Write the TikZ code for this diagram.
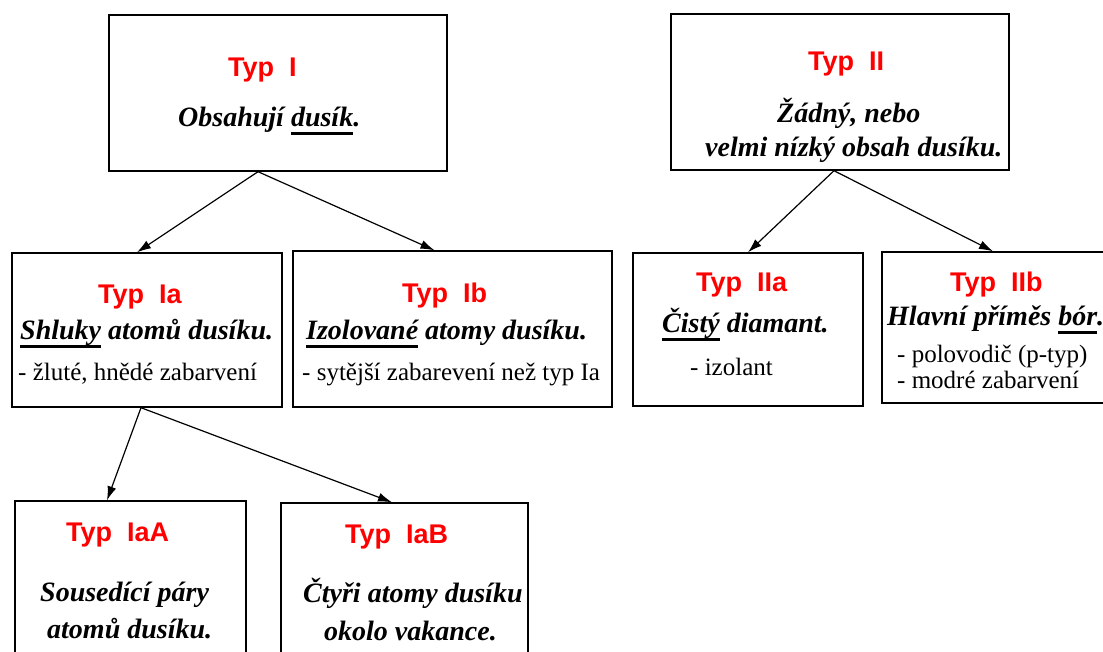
\documentclass[tikz,border=0pt]{standalone}
\usepackage{fontspec}
\setmainfont{Liberation Serif}
\newfontfamily\headfont{Liberation Sans}
\usetikzlibrary{arrows.meta}
\definecolor{typred}{RGB}{255,0,0}
% thick underline drawn below a word
\newcommand{\ulword}[1]{\setbox0\hbox{#1}\makebox[0pt][l]{\rule[-8pt]{\wd0}{2.6pt}}\box0\relax}
\tikzset{
  box/.style={draw=black, line width=1.4pt, fill=white, rectangle, inner sep=0pt},
  head/.style={anchor=base west, inner sep=0pt, text=typred, font=\headfont\bfseries\fontsize{27}{30}\selectfont},
  lead/.style={anchor=base west, inner sep=0pt, font=\bfseries\itshape\fontsize{28}{32}\selectfont},
  note/.style={anchor=base west, inner sep=0pt, font=\fontsize{25}{28}\selectfont},
  arr/.style={line width=1.2pt, -{Latex[length=14pt,width=9pt]}}
}
\begin{document}
\begin{tikzpicture}[x=1pt,y=-1pt]
\clip (0,0) rectangle (1103,652);
\fill[white] (0,0) rectangle (1103,652);

% boxes
\node[box, minimum width=338pt, minimum height=156pt] (t1)  at (278,93) {};
\node[box, minimum width=338pt, minimum height=156pt] (t2)  at (840,92) {};
\node[box, minimum width=270pt, minimum height=154pt] (ia)  at (147,330) {};
\node[box, minimum width=319pt, minimum height=156pt] (ib)  at (452.5,329) {};
\node[box, minimum width=230pt, minimum height=153pt] (iia) at (748,329.5) {};
\node[box, minimum width=233pt, minimum height=151pt] (iib) at (998.5,327.5) {};
\node[box, minimum width=231pt, minimum height=179pt] (iaa) at (130.5,590.5) {};
\node[box, minimum width=247pt, minimum height=177pt] (iab) at (404.5,591.5) {};

% Typ I
\node[head] (h1) at (228,77) {Typ\ \ I};
\node[lead] (l1) at (178,127) {Obsahují \ulword{dusík}.};

% Typ II
\node[head] (h2) at (808,71) {Typ\ \ II};
\node[lead] (l2a) at (777,123) {Žádný, nebo};
\node[lead] (l2b) at (705,157) {velmi nízký obsah dusíku.};

% Typ Ia
\node[head] (hia) at (98,304) {Typ\ \ Ia};
\node[lead] (lia) at (20,340) {\ulword{Shluky} atomů dusíku.};
\node[note] (nia) at (18,380) {- žluté, hnědé zabarvení};

% Typ Ib
\node[head] (hib) at (402,302) {Typ\ \ Ib};
\node[lead] (lib) at (306,340) {\ulword{Izolované} atomy dusíku.};
\node[note] (nib) at (302,380) {- sytější zabarevení než typ Ia};

% Typ IIa
\node[head] (hiia) at (696,292) {Typ\ \ IIa};
\node[lead] (liia) at (662,333) {\ulword{Čistý} diamant.};
\node[note] (niia) at (690,375) {- izolant};

% Typ IIb
\node[head] (hiib) at (950,292) {Typ\ \ IIb};
\node[lead] (liib) at (887,326) {Hlavní příměs \ulword{bór}.};
\node[note] (niib1) at (897,362) {- polovodič (p-typ)};
\node[note] (niib2) at (897,388) {- modré zabarvení};

% Typ IaA
\node[head] (hiaa) at (66,541) {Typ\ \ IaA};
\node[lead] (liaa1) at (40,601) {Sousedící páry};
\node[lead] (liaa2) at (47,638) {atomů dusíku.};

% Typ IaB
\node[head] (hiab) at (345,543) {Typ\ \ IaB};
\node[lead] (liab1) at (303,602) {Čtyři atomy dusíku};
\node[lead] (liab2) at (324,640) {okolo vakance.};

% connectors
\draw[arr] ([xshift=-20pt]t1.south) -- ([xshift=-10pt]ia.north);
\draw[arr] ([xshift=-20pt]t1.south) -- ([xshift=-18pt]ib.north);
\draw[arr] ([xshift=-6pt]t2.south) -- (iia.north);
\draw[arr] ([xshift=-6pt]t2.south) -- ([xshift=-5.5pt]iib.north);
\draw[arr] ([xshift=-6pt]ia.south) -- ([xshift=-23.5pt]iaa.north);
\draw[arr] ([xshift=-6pt]ia.south) -- ([xshift=-12.5pt]iab.north);
\end{tikzpicture}
\end{document}
